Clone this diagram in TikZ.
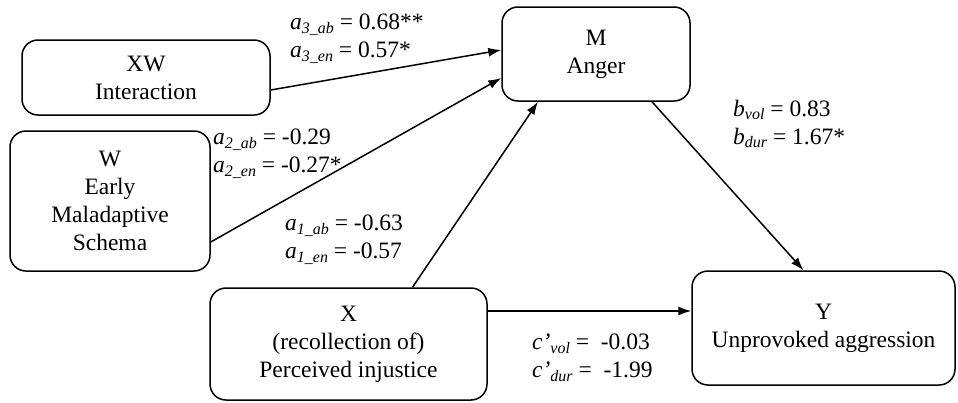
\documentclass[tikz,border=0pt]{standalone}
\usepackage{fontspec}
\setmainfont{Liberation Serif}
\usetikzlibrary{arrows.meta,positioning,calc}
\tikzset{
  varbox/.style={draw,line width=1.5pt,rounded corners=16pt,align=center,
    inner sep=0pt,font=\fontsize{23.5}{28}\selectfont},
  pathline/.style={line width=1.5pt,-{Latex[length=13pt,width=9pt]}},
  coeflab/.style={align=left,anchor=west,inner sep=0pt,
    font=\fontsize{23.5}{28}\selectfont}}
\newcommand{\cf}[2]{\textit{#1}\raisebox{-0.35ex}{\fontsize{16}{16}\selectfont\textit{#2}}}

\begin{document}
\begin{tikzpicture}[x=1pt,y=-1pt]
  \useasboundingbox (0,0) rectangle (958,402);
  % Variables
  \node[varbox,minimum width=248pt,minimum height=75pt] (XW) at (146,77.5) {XW\\Interaction};
  \node[varbox,minimum width=200pt,minimum height=140pt] (W) at (110,201) {W\\Early\\Maladaptive\\Schema};
  \node[varbox,minimum width=188pt,minimum height=94pt] (M) at (596,54) {M\\Anger};
  \node[varbox,minimum width=277pt,minimum height=112pt] (X) at (348.5,344) {X\\(recollection of)\\Perceived injustice};
  \node[varbox,minimum width=263pt,minimum height=114pt] (Y) at (823.5,328) {Y\\Unprovoked aggression};
  % Paths
  \draw[pathline] ([yshift=-12.5pt]XW.east) -- ([yshift=4pt]M.west);
  \draw[pathline] ([yshift=-41pt]W.east) -- ([yshift=-24pt]M.west);
  \draw[pathline] ([xshift=64pt]X.north) -- ([xshift=-58pt]M.south);
  \draw[pathline] ([xshift=56pt]M.south) -- ([xshift=-20pt]Y.north);
  \draw[pathline] ([yshift=33pt]X.east) -- ([yshift=17pt]Y.west);
  % Coefficients
  \node[coeflab] (a3lab) at (290,39) {\cf{a}{3\_ab} = 0.68**\\\cf{a}{3\_en} = 0.57*};
  \node[coeflab] (a2lab) at (213,153.5) {\cf{a}{2\_ab} = -0.29\\\cf{a}{2\_en} = -0.27*};
  \node[coeflab] (a1lab) at (285,240) {\cf{a}{1\_ab} = -0.63\\\cf{a}{1\_en} = -0.57};
  \node[coeflab] (blab) at (733,124) {\cf{b}{vol} = 0.83\\\cf{b}{dur} = 1.67*};
  \node[coeflab] (clab) at (532,358) {\cf{c’}{vol} =~ -0.03\\\cf{c’}{dur} =~ -1.99};
\end{tikzpicture}
\end{document}
